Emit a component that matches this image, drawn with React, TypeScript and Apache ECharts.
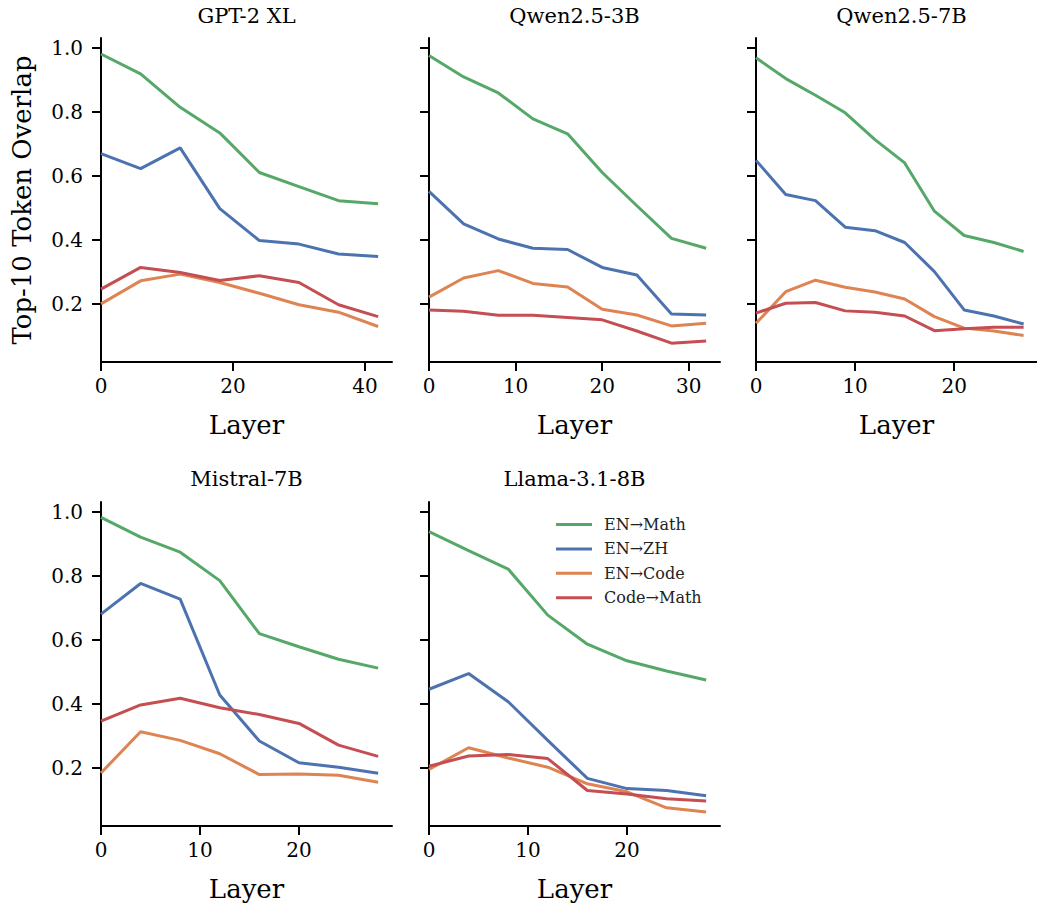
import React, { useEffect, useRef } from "react";
import * as echarts from "echarts";

const FONT = "'DejaVu Serif', serif";

const seriesNames = ["EN→Math", "EN→ZH", "EN→Code", "Code→Math"];
const seriesColors = ["#55a868", "#4c72b0", "#dd8452", "#c44e52"];

const modelTitles = ["GPT-2 XL", "Qwen2.5-3B", "Qwen2.5-7B", "Mistral-7B", "Llama-3.1-8B"];

// layers per model
const layersGPT2 = [0, 6, 12, 18, 24, 30, 36, 42];
const layersQwen3B = [0, 4, 8, 12, 16, 20, 24, 28, 32];
const layersQwen7B = [0, 3, 6, 9, 12, 15, 18, 21, 24, 27];
const layersMistral = [0, 4, 8, 12, 16, 20, 24, 28];
const layersLlama = [0, 4, 8, 12, 16, 20, 24, 28];

// GPT-2 XL
const gpt2Math = [0.982, 0.92, 0.815, 0.735, 0.611, 0.567, 0.523, 0.513];
const gpt2Zh = [0.67, 0.623, 0.688, 0.498, 0.398, 0.387, 0.356, 0.348];
const gpt2Code = [0.2, 0.272, 0.293, 0.267, 0.233, 0.197, 0.174, 0.129];
const gpt2CodeMath = [0.246, 0.314, 0.298, 0.273, 0.288, 0.267, 0.197, 0.16];

// Qwen2.5-3B
const q3Math = [0.977, 0.91, 0.86, 0.779, 0.732, 0.611, 0.507, 0.405, 0.374];
const q3Zh = [0.552, 0.45, 0.403, 0.374, 0.37, 0.314, 0.29, 0.168, 0.165];
const q3Code = [0.221, 0.281, 0.304, 0.264, 0.253, 0.183, 0.165, 0.131, 0.139];
const q3CodeMath = [0.181, 0.177, 0.164, 0.164, 0.157, 0.15, 0.115, 0.077, 0.084];

// Qwen2.5-7B
const q7Math = [0.97, 0.905, 0.853, 0.798, 0.714, 0.641, 0.49, 0.414, 0.392, 0.364];
const q7Zh = [0.649, 0.542, 0.523, 0.44, 0.429, 0.392, 0.301, 0.181, 0.162, 0.137];
const q7Code = [0.139, 0.238, 0.274, 0.252, 0.237, 0.215, 0.16, 0.124, 0.115, 0.101];
const q7CodeMath = [0.171, 0.202, 0.204, 0.178, 0.174, 0.162, 0.116, 0.122, 0.127, 0.127];

// Mistral-7B
const mMath = [0.984, 0.922, 0.875, 0.786, 0.62, 0.579, 0.54, 0.512];
const mZh = [0.681, 0.777, 0.728, 0.428, 0.284, 0.216, 0.202, 0.183];
const mCode = [0.184, 0.313, 0.286, 0.244, 0.179, 0.181, 0.177, 0.155];
const mCodeMath = [0.346, 0.397, 0.418, 0.388, 0.367, 0.339, 0.271, 0.236];

// Llama-3.1-8B
const lMath = [0.939, 0.88, 0.822, 0.678, 0.587, 0.535, 0.503, 0.475];
const lZh = [0.446, 0.495, 0.407, 0.286, 0.167, 0.135, 0.129, 0.113];
const lCode = [0.195, 0.263, 0.231, 0.202, 0.15, 0.125, 0.075, 0.062];
const lCodeMath = [0.205, 0.237, 0.242, 0.229, 0.129, 0.118, 0.103, 0.096];

const panelLayers = [layersGPT2, layersQwen3B, layersQwen7B, layersMistral, layersLlama];
const panelValues = [
  [gpt2Math, gpt2Zh, gpt2Code, gpt2CodeMath],
  [q3Math, q3Zh, q3Code, q3CodeMath],
  [q7Math, q7Zh, q7Code, q7CodeMath],
  [mMath, mZh, mCode, mCodeMath],
  [lMath, lZh, lCode, lCodeMath],
];

const xTickValues = [[0, 20, 40], [0, 10, 20, 30], [0, 10, 20], [0, 10, 20], [0, 10, 20]];
const xMaxes = [44.1, 33.6, 28.35, 29.4, 29.4];
const yTickValues = [0.2, 0.4, 0.6, 0.8, 1.0];
const yMin = 0.018;
const yMax = 1.032;

const gridLefts = [101, 429, 756, 101, 429];
const gridTops = [38, 38, 38, 502, 502];
const gridW = 291;
const gridH = 324;

export default function App() {
  const ref = useRef<HTMLDivElement>(null);

  useEffect(() => {
    if (!ref.current) return;
    const chart = echarts.init(ref.current, null, { renderer: "svg" });

    const grids = gridLefts.map((l, i) => ({
      left: l,
      top: gridTops[i],
      width: gridW,
      height: gridH,
      containLabel: false,
    }));

    const xAxes = gridLefts.map((_, i) => ({
      type: "value",
      gridIndex: i,
      min: 0,
      max: xMaxes[i],
      axisLine: { show: true, onZero: false, lineStyle: { color: "#000", width: 2 } },
      axisTick: {
        show: true,
        inside: false,
        length: 9,
        lineStyle: { color: "#000", width: 2 },
        customValues: xTickValues[i],
      },
      axisLabel: {
        show: true,
        customValues: xTickValues[i],
        fontSize: 20,
        fontFamily: FONT,
        color: "#000",
        margin: 14,
      },
      splitLine: { show: false },
      name: "Layer",
      nameLocation: "middle",
      nameGap: 50,
      nameTextStyle: { fontSize: 26, fontFamily: FONT, color: "#000" },
    }));

    const yAxes = gridLefts.map((_, i) => ({
      type: "value",
      gridIndex: i,
      min: yMin,
      max: yMax,
      axisLine: { show: true, onZero: false, lineStyle: { color: "#000", width: 2 } },
      axisTick: {
        show: true,
        inside: false,
        length: 9,
        lineStyle: { color: "#000", width: 2 },
        customValues: yTickValues,
      },
      axisLabel: {
        show: i === 0 || i === 3,
        customValues: yTickValues,
        formatter: (v: number) => v.toFixed(1),
        fontSize: 20,
        fontFamily: FONT,
        color: "#000",
        margin: 18,
      },
      splitLine: { show: false },
    }));

    const series: any[] = [];
    panelValues.forEach((vals, p) => {
      vals.forEach((arr, s) => {
        series.push({
          type: "line",
          name: seriesNames[s],
          xAxisIndex: p,
          yAxisIndex: p,
          symbol: "none",
          showSymbol: false,
          lineStyle: { width: 3, color: seriesColors[s] },
          itemStyle: { color: seriesColors[s] },
          data: panelLayers[p].map((x, k) => [x, arr[k]]),
          z: 2 + s,
        });
      });
    });

    const titleCenters = gridLefts.map((l) => l + gridW / 2);
    const titleYs = [16, 16, 16, 479, 479];

    const graphic: any[] = modelTitles.map((t, i) => ({
      type: "text",
      x: titleCenters[i],
      y: titleYs[i],
      style: {
        text: t,
        fontSize: 21,
        fontFamily: FONT,
        fill: "#000",
        align: "center",
        verticalAlign: "middle",
      },
    }));
    graphic.push({
      type: "text",
      x: 22,
      y: 200,
      rotation: Math.PI / 2,
      style: {
        text: "Top-10 Token Overlap",
        fontSize: 26,
        fontFamily: FONT,
        fill: "#000",
        align: "center",
        verticalAlign: "middle",
      },
    });

    chart.setOption({
      animation: false,
      backgroundColor: "#fff",
      grid: grids,
      xAxis: xAxes,
      yAxis: yAxes,
      series,
      graphic,
      legend: {
        data: seriesNames,
        orient: "vertical",
        left: 551,
        top: 511,
        itemWidth: 36,
        itemHeight: 17,
        itemGap: 7.4,
        icon: "path://M0,7 L36,7 L36,10 L0,10 Z",
        textStyle: {
          fontSize: 16,
          fontFamily: FONT,
          color: "#222",
          lineHeight: 17,
          padding: [0, 0, 0, 7],
        },
      },
    });

    return () => chart.dispose();
  }, []);

  return (
    <div
      ref={ref}
      style={{ position: "absolute", left: 0, top: 0, width: 1037, height: 907 }}
    />
  );
}
